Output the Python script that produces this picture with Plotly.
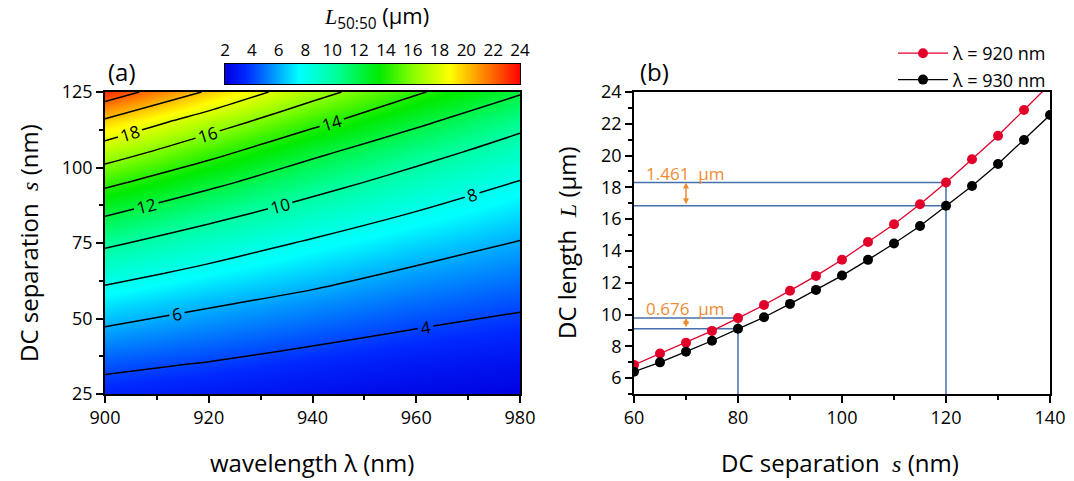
import numpy as np
import plotly.graph_objects as go

# ---------------- data: panel (a) ----------------
WAVELENGTHS = [900, 920, 940, 960, 980]                      # nm
SEPARATIONS = [25, 35, 45, 55, 65, 75, 85, 95, 105, 115, 125]  # nm
# L_50:50 (um), one row per separation, columns follow WAVELENGTHS
L_GRID = [
    [3.30, 2.95, 2.60, 2.30, 2.05],
    [4.38, 3.92, 3.40, 2.95, 2.65],
    [5.68, 5.05, 4.42, 3.85, 3.42],
    [7.09, 6.18, 5.48, 4.78, 4.24],
    [8.61, 7.55, 6.62, 5.73, 5.08],
    [10.30, 8.97, 7.79, 6.81, 5.92],
    [12.22, 10.60, 9.20, 7.94, 6.90],
    [14.42, 12.43, 10.71, 9.24, 7.91],
    [17.00, 14.56, 12.36, 10.67, 9.14],
    [19.62, 16.94, 14.43, 12.32, 10.50],
    [23.10, 19.77, 16.70, 14.20, 12.17],
]
CBAR_TICKS = [2, 4, 6, 8, 10, 12, 14, 16, 18, 20, 22, 24]

# ---------------- data: panel (b) ----------------
SEP = [60, 65, 70, 75, 80, 85, 90, 95, 100, 105, 110, 115, 120, 125, 130, 135, 140]
L920 = [6.83, 7.55, 8.22, 8.97, 9.776, 10.60, 11.50, 12.43, 13.45, 14.56, 15.68,
        16.94, 18.301, 19.77, 21.25, 22.87, 24.50]
L930 = [6.40, 6.99, 7.66, 8.35, 9.100, 9.83, 10.67, 11.55, 12.45, 13.44, 14.47,
        15.57, 16.840, 18.09, 19.47, 20.98, 22.55]
MARK_SEPS = [80, 120]

W, H = 1074, 481
FONT = "Open Sans"
MATH = "font-family:'Liberation Serif';font-style:italic"
RED = "rgb(226,0,42)"
BLUE = "rgb(70,113,170)"
ORANGE = "rgb(238,140,50)"

CSCALE = [
    [0.00, "rgb(0,0,225)"],
    [0.07, "rgb(0,40,255)"],
    [0.25, "rgb(0,255,255)"],
    [0.38, "rgb(0,255,150)"],
    [0.52, "rgb(0,235,0)"],
    [0.64, "rgb(140,255,0)"],
    [0.76, "rgb(255,255,0)"],
    [0.88, "rgb(255,130,0)"],
    [1.00, "rgb(255,0,0)"],
]
ZMIN, ZMAX = 2, 24


def px(x):
    return x / W


def py(y):
    return 1 - y / H


def m(t):
    return f"<span style=\"{MATH}\">{t}</span>"


fig = go.Figure()

# panel (a) contour map
fig.add_trace(go.Contour(
    x=WAVELENGTHS, y=SEPARATIONS, z=L_GRID,
    colorscale=CSCALE, zmin=ZMIN, zmax=ZMAX, zauto=False,
    contours=dict(start=4, end=22, size=2, coloring="heatmap",
                  showlabels=True,
                  labelfont=dict(size=17, color="black", family=FONT)),
    line=dict(color="black", width=1.5),
    showscale=False, xaxis="x", yaxis="y", hoverinfo="skip",
))

# colour bar drawn as its own small axis
cb = np.linspace(ZMIN, ZMAX, 221)
fig.add_trace(go.Heatmap(
    x=cb, y=[0, 1], z=[cb, cb], colorscale=CSCALE, zmin=ZMIN, zmax=ZMAX,
    zsmooth="best", showscale=False, xaxis="x3", yaxis="y3", hoverinfo="skip",
))

# panel (b) guide lines
for s in MARK_SEPS:
    i = SEP.index(s)
    hi, lo = L920[i], L930[i]
    for yv in (hi, lo):
        fig.add_trace(go.Scatter(x=[SEP[0], s], y=[yv, yv], mode="lines",
                                 line=dict(color=BLUE, width=1.5),
                                 showlegend=False, xaxis="x2", yaxis="y2",
                                 hoverinfo="skip"))
    fig.add_trace(go.Scatter(x=[s, s], y=[5, hi], mode="lines",
                             line=dict(color=BLUE, width=1.5),
                             showlegend=False, xaxis="x2", yaxis="y2",
                             hoverinfo="skip"))
    fig.add_annotation(x=70, y=hi, ax=70, ay=lo, xref="x2", yref="y2",
                       axref="x2", ayref="y2", text="", showarrow=True,
                       arrowhead=2, arrowside="end+start", arrowsize=0.8,
                       arrowwidth=1.5, arrowcolor=ORANGE)
    fig.add_annotation(x=SEP[0] + 2, y=hi, xref="x2", yref="y2",
                       text=f"{hi - lo:.3f}  µm", showarrow=False,
                       xanchor="left", yanchor="bottom", yshift=-4,
                       font=dict(size=17, color=ORANGE, family=FONT))

# panel (b) curves
fig.add_trace(go.Scatter(x=SEP, y=L920, mode="lines+markers", name="λ = 920 nm",
                         line=dict(color=RED, width=1.3),
                         marker=dict(color=RED, size=10),
                         xaxis="x2", yaxis="y2"))
fig.add_trace(go.Scatter(x=SEP, y=L930, mode="lines+markers", name="λ = 930 nm",
                         line=dict(color="black", width=1.3),
                         marker=dict(color="black", size=10),
                         xaxis="x2", yaxis="y2"))

axis_common = dict(showline=True, linecolor="black", linewidth=1.5, mirror=True,
                   ticks="outside", ticklen=7, tickwidth=1.5, tickcolor="black",
                   showgrid=False, zeroline=False, automargin=False,
                   tickfont=dict(size=18, color="black", family=FONT))

fig.update_layout(
    width=W, height=H, margin=dict(l=0, r=0, t=0, b=0, pad=0),
    paper_bgcolor="white", plot_bgcolor="white",
    font=dict(family=FONT, color="black"),
    xaxis=dict(domain=[px(105), px(520)], anchor="y", range=[900, 980],
               tickvals=[900, 920, 940, 960, 980],
               minor=dict(dtick=10, tick0=900, ticks="outside", ticklen=4,
                          tickwidth=1.5, tickcolor="black"),
               **axis_common),
    yaxis=dict(domain=[py(394), py(92)], anchor="x", range=[25, 125],
               tickvals=[25, 50, 75, 100, 125],
               minor=dict(dtick=12.5, tick0=25, ticks="outside", ticklen=4,
                          tickwidth=1.5, tickcolor="black"),
               **axis_common),
    xaxis2=dict(domain=[px(634), px(1050)], anchor="y2", range=[60, 140],
                tickvals=[60, 80, 100, 120, 140],
                minor=dict(dtick=10, tick0=60, ticks="outside", ticklen=4,
                           tickwidth=1.5, tickcolor="black"),
                **axis_common),
    yaxis2=dict(domain=[py(394), py(92)], anchor="x2", range=[5, 24],
                tickvals=list(range(6, 25, 2)),
                minor=dict(dtick=1, tick0=5, ticks="outside", ticklen=4,
                           tickwidth=1.5, tickcolor="black"),
                **axis_common),
    xaxis3=dict(domain=[px(225), px(520)], anchor="y3", range=[ZMIN, ZMAX],
                side="top", tickvals=CBAR_TICKS, ticks="", showline=True,
                linecolor="black", linewidth=1, mirror=True, showgrid=False,
                zeroline=False, automargin=False,
                tickfont=dict(size=17, color="black", family=FONT)),
    yaxis3=dict(domain=[py(84), py(64)], anchor="x3", range=[0, 1],
                showticklabels=False, ticks="", showline=True, linecolor="black",
                linewidth=1, mirror=True, showgrid=False, zeroline=False,
                automargin=False),
    legend=dict(x=px(1052), xanchor="right", y=py(35), yanchor="top",
                bgcolor="rgba(0,0,0,0)", font=dict(size=18, family=FONT),
                itemwidth=50),
    showlegend=True,
)

title_font = dict(size=24, color="black", family=FONT)
annots = [
    dict(x=px(312), y=py(462), text="wavelength λ (nm)", textangle=0, size=24),
    dict(x=px(840), y=py(462), text="DC separation  " + m("s") + " (nm)", textangle=0, size=24),
    dict(x=px(28), y=py(243), text="DC separation  " + m("s") + " (nm)", textangle=-90, size=24),
    dict(x=px(566), y=py(243), text="DC length  " + m("L") + " (µm)", textangle=-90, size=24),
    dict(x=px(122), y=py(71), text="(a)", textangle=0, size=24),
    dict(x=px(654), y=py(71), text="(b)", textangle=0, size=24),
    dict(x=px(376), y=py(17), text=m("L") + "<sub>50:50</sub> (µm)", textangle=0, size=22),
]
for a in annots:
    size = a.pop("size")
    fig.add_annotation(xref="paper", yref="paper", showarrow=False,
                       xanchor="center", yanchor="middle",
                       font=dict(size=size, color="black", family=FONT), **a)

fig.write_html("out.html")
